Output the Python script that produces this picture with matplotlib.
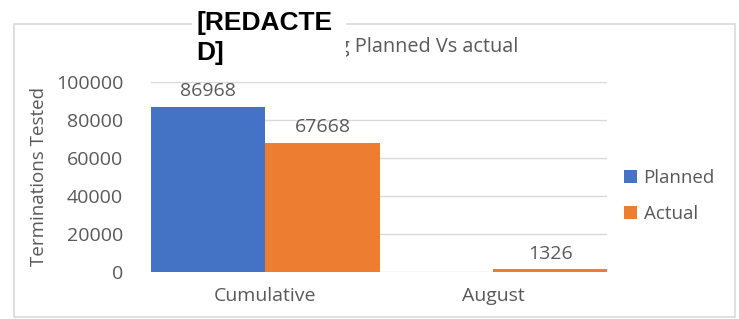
#!/usr/bin/env python3
"""Planned vs actual terminations tested, clustered bar chart."""

import numpy as np
import matplotlib.pyplot as plt
from matplotlib.patches import Rectangle

categories = ["Cumulative", "August"]
planned = [86968, 0]
actual = [67668, 1326]
series_names = ["Planned", "Actual"]
yticks = [0, 20000, 40000, 60000, 80000, 100000]

BLUE = "#4472C4"
ORANGE = "#ED7D31"
GREY_TEXT = "#595959"
GRID = "#D9D9D9"
W, H = 739, 319

plt.rcParams["font.family"] = ["Open Sans", "DejaVu Sans"]


def main():
    fig = plt.figure(figsize=(W / 100, H / 100), dpi=100)
    fig.patch.set_facecolor("white")

    # chart area border
    fig.patches.append(Rectangle((14 / W, 2 / H), 721 / W, 293 / H,
                                 transform=fig.transFigure, fill=False,
                                 edgecolor=GRID, linewidth=1.2, zorder=0))

    ax = fig.add_axes([151 / W, 1 - 272 / H, 456 / W, 190 / H])
    x = np.arange(len(categories))
    w = 0.504
    b1 = ax.bar(x - w / 2, planned, width=w, color=BLUE, label=series_names[0], zorder=3)
    b2 = ax.bar(x + w / 2, actual, width=w, color=ORANGE, label=series_names[1], zorder=3)

    for bars, vals in ((b1, planned), (b2, actual)):
        for rect, v in zip(bars, vals):
            if v == 0:
                continue
            ax.annotate(f"{v}", (rect.get_x() + rect.get_width() / 2, v),
                        xytext=(0, 5), textcoords="offset points",
                        ha="center", va="bottom", fontsize=14, color=GREY_TEXT)

    ax.set_xlim(-0.5, 1.5)
    ax.set_ylim(0, 100000)
    ax.set_yticks(yticks)
    ax.set_yticklabels([str(t) for t in yticks])
    ax.set_xticks(x)
    ax.set_xticklabels(categories)
    ax.tick_params(axis="both", length=0, labelsize=14, colors=GREY_TEXT)
    ax.tick_params(axis="y", pad=20)
    ax.tick_params(axis="x", pad=11)
    ax.yaxis.grid(True, color=GRID, linewidth=1, zorder=0)
    for s in ax.spines.values():
        s.set_visible(False)
    ax.set_ylabel("Terminations Tested", fontsize=13.5, color=GREY_TEXT, labelpad=6)

    ax.legend(loc="center left", bbox_to_anchor=(1.0, 0.4), frameon=False,
              fontsize=13.5, handlelength=0.7, handleheight=0.7,
              handletextpad=0.35, labelspacing=1.0, labelcolor=GREY_TEXT)

    # title, mostly covered by the redaction block
    fig.text(518 / W, 1 - 47 / H, "Testing Planned Vs actual", ha="right",
             va="center", fontsize=14.3, color=GREY_TEXT)
    fig.patches.append(Rectangle((192 / W, 1 - 68 / H), 154 / W, 64 / H,
                                 transform=fig.transFigure, facecolor="white",
                                 edgecolor="none", zorder=5))
    fig.text(196 / W, 1 - 11 / H, "[REDACTE\nD]", ha="left", va="top",
             fontsize=19, fontweight="bold", color="black",
             family="Liberation Sans", linespacing=1.3, zorder=6)

    fig.savefig("out.png", dpi=100)
    plt.close(fig)


if __name__ == "__main__":
    main()
